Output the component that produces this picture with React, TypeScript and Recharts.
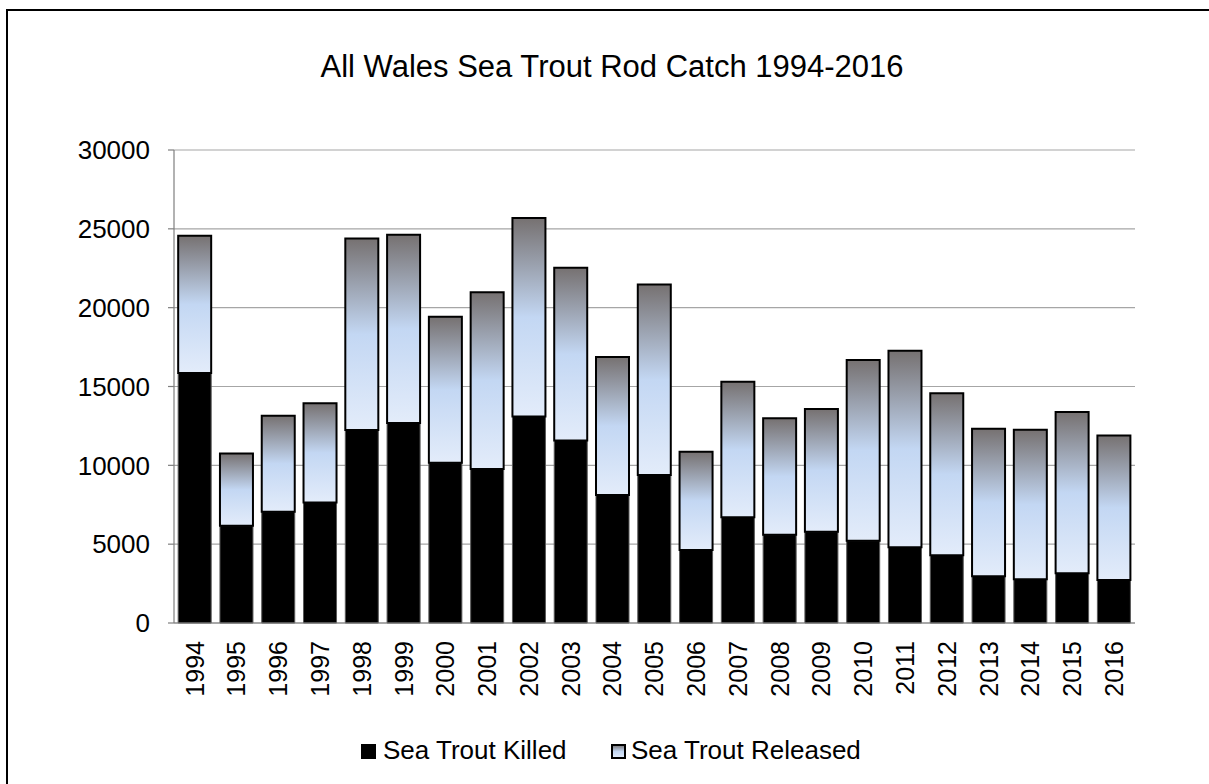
import { BarChart, Bar, XAxis, YAxis, CartesianGrid } from 'recharts';

const years = [
  '1994', '1995', '1996', '1997', '1998', '1999', '2000', '2001', '2002', '2003', '2004', '2005',
  '2006', '2007', '2008', '2009', '2010', '2011', '2012', '2013', '2014', '2015', '2016',
];

const seaTroutKilled = [
  15850, 6170, 7060, 7650, 12240, 12680, 10170, 9770, 13100, 11580, 8120, 9390,
  4630, 6700, 5600, 5790, 5220, 4800, 4290, 2960, 2770, 3150, 2730,
];

const seaTroutReleased = [
  8710, 4580, 6090, 6280, 12150, 11940, 9250, 11210, 12580, 10950, 8750, 12080,
  6230, 8600, 7380, 7780, 11460, 12470, 10280, 9360, 9490, 10230, 9170,
];

const yTicks = [0, 5000, 10000, 15000, 20000, 25000, 30000];

const data = years.map((year, i) => ({
  year,
  killed: seaTroutKilled[i],
  released: seaTroutReleased[i],
}));

const font = '"Liberation Sans", Arial, sans-serif';

function YearTick(props: any) {
  const { x, payload } = props;
  const y0 = 641;
  return (
    <text
      x={x}
      y={y0}
      dy="0.35em"
      transform={`rotate(-90, ${x}, ${y0})`}
      textAnchor="end"
      fontSize={25}
      fontFamily={font}
      fill="#000"
    >
      {payload.value}
    </text>
  );
}

export default function App() {
  return (
    <div
      style={{
        position: 'fixed',
        left: 0,
        top: 0,
        width: 1209,
        height: 784,
        overflow: 'hidden',
        background: '#fff',
        fontFamily: font,
      }}
    >
      {/* outer chart frame: only the left and top edges fall inside the picture */}
      <div style={{ position: 'absolute', left: 6, top: 9, width: 1203, height: 2, background: '#000' }} />
      <div style={{ position: 'absolute', left: 6, top: 9, width: 2, height: 775, background: '#000' }} />
      <div style={{ position: 'absolute', left: 0, top: 0 }}>
        <BarChart
          width={1209}
          height={784}
          data={data}
          margin={{ top: 150, right: 74, bottom: 61, left: 0 }}
          barCategoryGap="10%"
        >
          <defs>
            <linearGradient id="releasedGradient" x1="0" y1="0" x2="0" y2="1">
              <stop offset="0%" stopColor="#767171" />
              <stop offset="50%" stopColor="#c3d7f3" />
              <stop offset="100%" stopColor="#e3ecfa" />
            </linearGradient>
          </defs>
          <CartesianGrid vertical={false} stroke="#a6a6a6" strokeWidth={1.2} />
          <XAxis
            dataKey="year"
            interval={0}
            height={100}
            tickLine={false}
            axisLine={{ stroke: '#7f7f7f', strokeWidth: 1.2 }}
            tick={<YearTick />}
          />
          <YAxis
            width={174}
            domain={[0, 30000]}
            ticks={yTicks}
            interval={0}
            tickSize={6}
            tickMargin={18}
            axisLine={{ stroke: '#7f7f7f', strokeWidth: 1.2 }}
            tickLine={{ stroke: '#7f7f7f', strokeWidth: 1.2 }}
            tick={{ fill: '#000', fontSize: 26, fontFamily: font }}
          />
          <Bar
            dataKey="killed"
            stackId="catch"
            fill="#000"
            stroke="#595959"
            strokeWidth={1}
            isAnimationActive={false}
          />
          <Bar
            dataKey="released"
            stackId="catch"
            fill="url(#releasedGradient)"
            stroke="#000"
            strokeWidth={2}
            isAnimationActive={false}
          />
        </BarChart>
      </div>
      <svg
        width={1209}
        height={784}
        style={{ position: 'absolute', left: 0, top: 0, pointerEvents: 'none' }}
      >
        <defs>
          <linearGradient id="legendReleased" x1="0" y1="0" x2="0" y2="1">
            <stop offset="0%" stopColor="#767171" />
            <stop offset="50%" stopColor="#c3d7f3" />
            <stop offset="100%" stopColor="#e3ecfa" />
          </linearGradient>
        </defs>
        <text x={612} y={77} textAnchor="middle" fontSize={31} fontFamily={font} fill="#000">
          All Wales Sea Trout Rod Catch 1994-2016
        </text>
        <rect x={361} y={744} width={15} height={15} fill="#000" />
        <text x={383} y={759} fontSize={26} fontFamily={font} fill="#000">
          Sea Trout Killed
        </text>
        <rect x={612} y={745} width={13} height={13} fill="url(#legendReleased)" stroke="#000" strokeWidth={2} />
        <text x={631} y={759} fontSize={26} fontFamily={font} fill="#000">
          Sea Trout Released
        </text>
      </svg>
    </div>
  );
}
